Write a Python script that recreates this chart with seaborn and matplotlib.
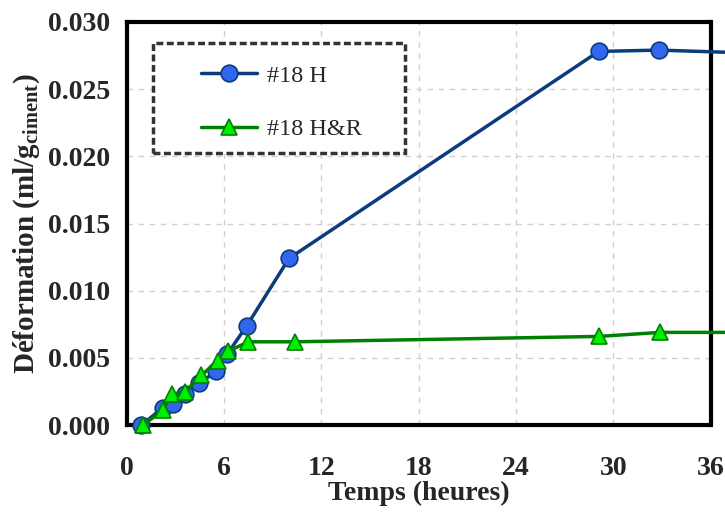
import numpy as np
import pandas as pd
import seaborn as sns
import matplotlib.pyplot as plt
from matplotlib.patches import Rectangle
from matplotlib.ticker import FormatStrFormatter

sns.set_style("whitegrid")
plt.rcParams["font.family"] = ["Liberation Serif", "DejaVu Serif"]
plt.rcParams["mathtext.fontset"] = "custom"
plt.rcParams["mathtext.rm"] = "Liberation Serif"
plt.rcParams["mathtext.bf"] = "Liberation Serif:bold"

# data
t_h = [0.9, 2.2, 2.85, 3.6, 4.45, 5.5, 6.2, 7.4, 10.0, 29.1, 32.8, 38.0]
def_h = [0.0, 0.00128, 0.0016, 0.0023, 0.0031, 0.0040, 0.0053, 0.0074, 0.0124, 0.0278, 0.0279, 0.0277]
t_hr = [1.0, 2.2, 2.8, 3.6, 4.6, 5.6, 6.25, 7.5, 10.4, 29.1, 32.9, 38.0]
def_hr = [0.0, 0.0011, 0.0023, 0.0025, 0.0037, 0.0048, 0.0055, 0.0062, 0.0062, 0.0066, 0.0069, 0.0069]
x_ticks = [0, 6, 12, 18, 24, 30, 36]
y_ticks = [0.0, 0.005, 0.010, 0.015, 0.020, 0.025, 0.030]

df_h = pd.DataFrame({"t": t_h, "v": def_h})
df_hr = pd.DataFrame({"t": t_hr, "v": def_hr})

fig = plt.figure(figsize=(7.25, 5.21), dpi=100)
ax = fig.add_axes([0.175, 0.184, 0.805, 0.774])

sns.lineplot(data=df_h, x="t", y="v", ax=ax, color="#0b3d7a", linewidth=2.5,
             marker="o", markersize=12, markerfacecolor="#3366ee",
             markeredgecolor="#0b3d7a", markeredgewidth=1.2,
             label="#18 H", clip_on=False, zorder=3)
sns.lineplot(data=df_hr, x="t", y="v", ax=ax, color="#008000", linewidth=2.5,
             marker="^", markersize=12, markerfacecolor="#00ee00",
             markeredgecolor="#008000", markeredgewidth=1.2,
             label="#18 H&R", clip_on=False, zorder=4)

ax.set_xlim(0, 36)
ax.set_ylim(0, 0.030)
ax.set_xticks(x_ticks)
ax.set_yticks(y_ticks)
ax.yaxis.set_major_formatter(FormatStrFormatter("%.3f"))
ax.grid(True, color="#d0d0d0", linestyle=(0, (4, 4)), linewidth=1)

for s in ax.spines.values():
    s.set_color("black")
    s.set_linewidth(3)
    s.set_visible(True)

ax.tick_params(axis="both", which="major", direction="out", length=8, width=1.5,
               color="#777777", labelsize=20, pad=14)
ax.tick_params(axis="y", pad=4)
for lab in ax.get_xticklabels() + ax.get_yticklabels():
    lab.set_fontweight("bold")

ax.set_xlabel("Temps (heures)", fontsize=20, fontweight="bold", labelpad=0)
ax.set_ylabel(r"Déformation (ml/g$_{\mathbf{ciment}}$)", fontsize=21,
              fontweight="bold", labelpad=4)

# legend box with wide padding, as in the reference
box = Rectangle((0.045, 0.675), 0.432, 0.273, transform=ax.transAxes,
                facecolor="white", edgecolor="#333333", linewidth=2.5,
                linestyle=(0, (2, 1)), zorder=5)
ax.add_patch(box)
leg = ax.legend(loc="center", bbox_to_anchor=(0.265, 0.80), fontsize=17.5,
                frameon=False, labelspacing=1.3, handlelength=2.3,
                handletextpad=0.4, borderaxespad=0)
leg.set_zorder(6)

plt.savefig("out.png", dpi=100)
